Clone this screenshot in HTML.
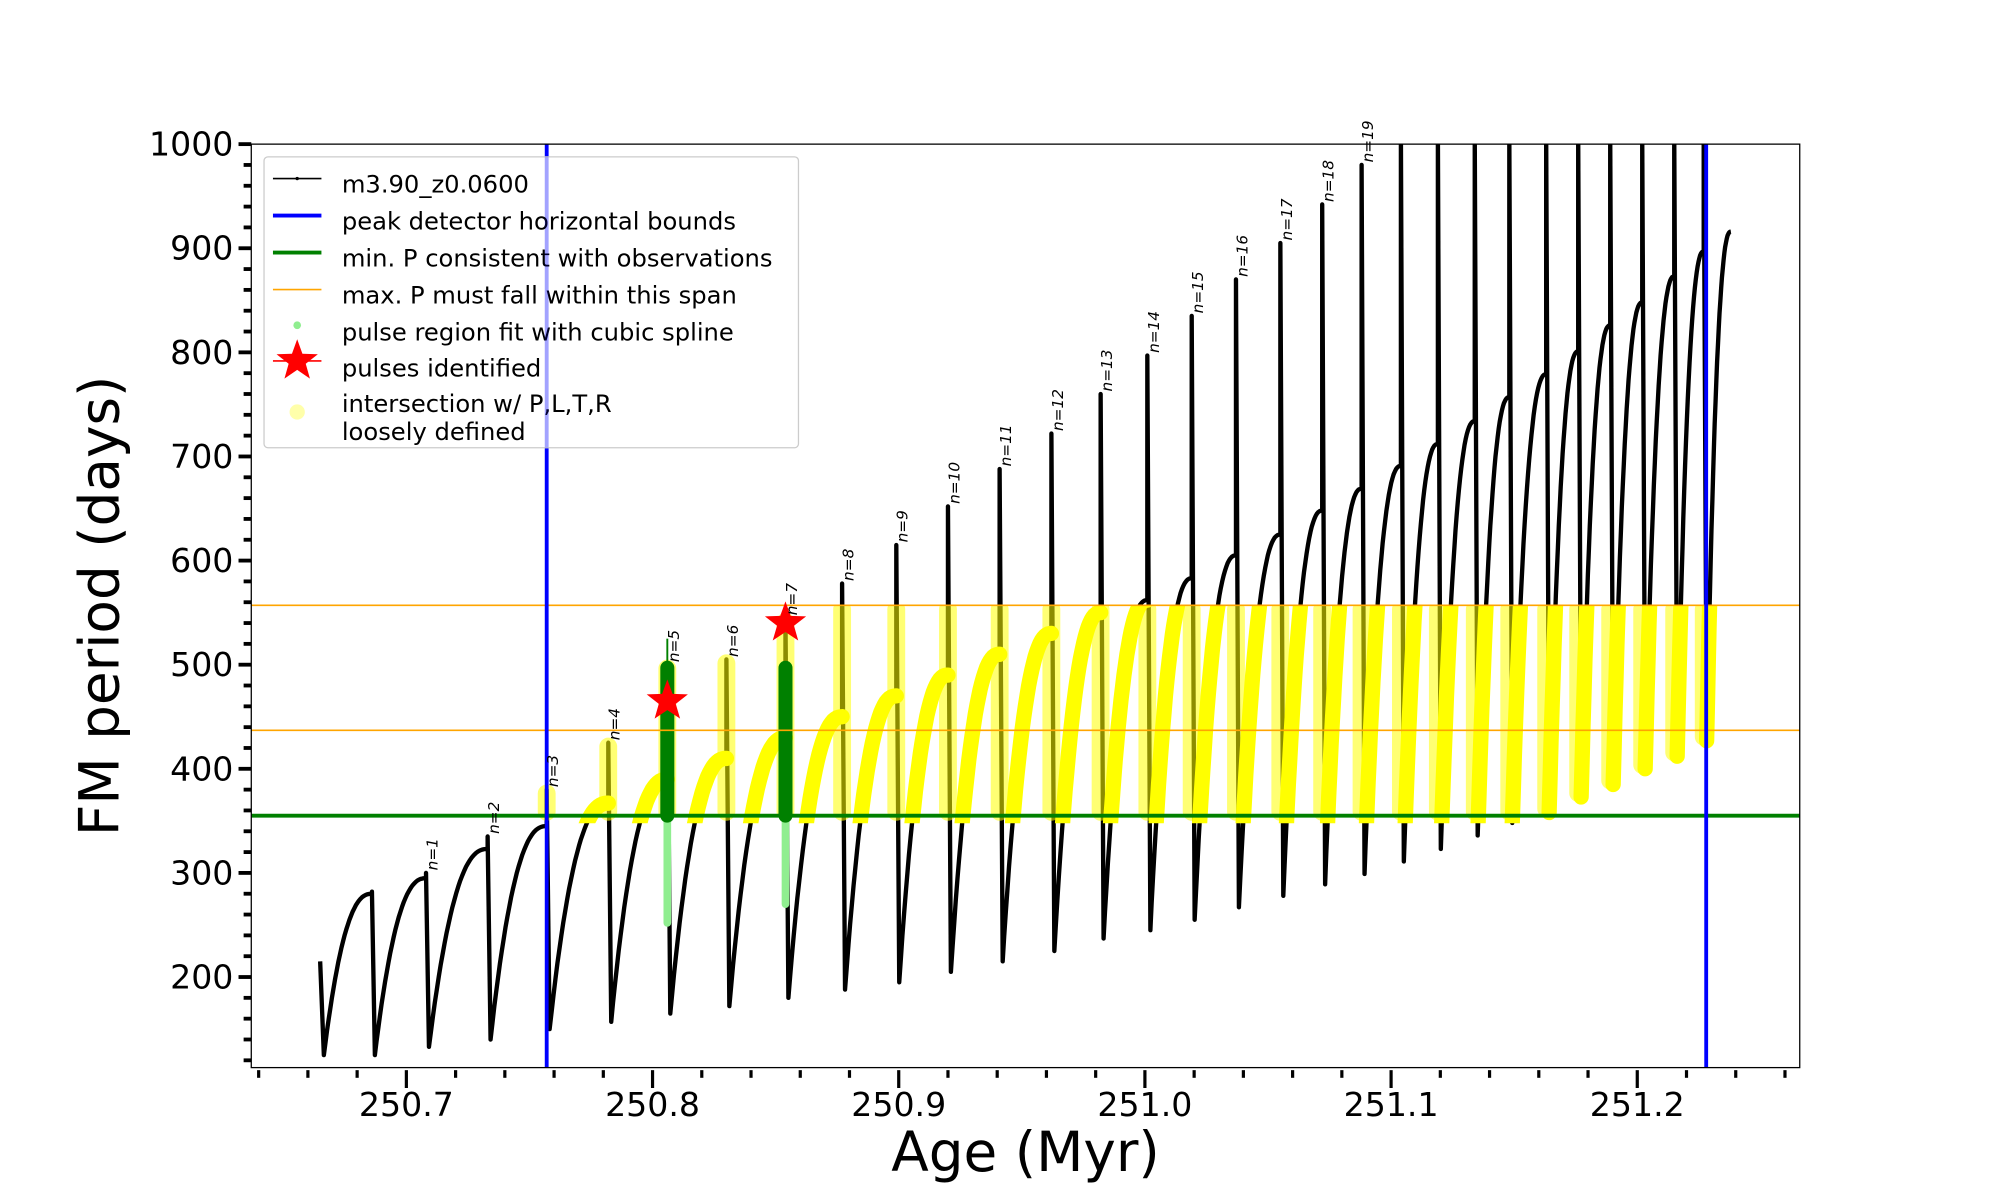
<!DOCTYPE html>
<html><head><meta charset="utf-8"><style>
html,body{margin:0;padding:0;background:#fff;}
svg{display:block;font-family:"DejaVu Sans","Liberation Sans",sans-serif;}
</style></head><body>
<svg id="chart" width="2000" height="1200" viewBox="0 0 1568 940.8" xmlns="http://www.w3.org/2000/svg">
<defs><clipPath id="plotClip"><rect x="197" y="113" width="1214" height="724"/></clipPath>
<clipPath id="yelClip"><rect id="yelRect" x="197" y="0" width="1214" height="10"/></clipPath></defs>
<g id="plot" clip-path="url(#plotClip)"></g>
<g id="axes"></g>
</svg>
<script>
const pulseAges=[250.686,250.708,250.733,250.757,250.782,250.806,250.830,250.854,250.877,250.899,250.920,250.941,250.962,250.982,251.001,251.019,251.037,251.055,251.072,251.088,251.104,251.119,251.134,251.148,251.163,251.176,251.189,251.202,251.215,251.227];
const peakVals=[280,295,323,345,367,390,410,430,450,470,490,510,530,550,562,583,605,625,648,669,691,712,734,757,779,801,826,848,873,897];
const spikeTops=[282,300,335,380,425,500,505,545,578,615,652,688,722,760,797,835,870,905,942,980,1010,1010,1010,1010,1010,1010,1010,1010,1010,1010];
const minVals=[125,133,140,150,157,165,172,180,188,195,205,215,225,237,245,255,267,278,289,299,311,323,336,348,358,373,385,400,412,427];
const startAge=250.665, startVal=215, firstMin=125, endAge=251.238, endVal=916;
const minPObs=355, maxPLow=437, maxPHigh=557;
const boundAges=[250.757,251.228];
const xTicks=[250.7,250.8,250.9,251.0,251.1,251.2];
const yTicks=[200,300,400,500,600,700,800,900,1000];
const pulsesFound=[{age:250.806,p:465},{age:250.854,p:540}];
const greenIdx=[5,7];
const greenTop=[497,497], lightBottom=[252,270], thinTop=[525,0];

const X0=197,X1=1411,Y0=113,Y1=837,xmin=250.637,xmax=251.266,ymin=113,ymax=1000;
const X=a=>X0+(a-xmin)/(xmax-xmin)*(X1-X0);
const Y=v=>Y1-(v-ymin)/(ymax-ymin)*(Y1-Y0);
const NS="http://www.w3.org/2000/svg";
function mk(tag,attrs,parent){const e=document.createElementNS(NS,tag);for(const k in attrs)e.setAttribute(k,attrs[k]);parent.appendChild(e);return e;}
const plot=document.getElementById('plot'), axes=document.getElementById('axes');

function arc(a0,v0,a1,v1,pts){for(let k=0;k<=30;k++){const s=k/30;pts.push([X(a0+(a1-a0)*s),Y(v0+(v1-v0)*(1-Math.pow(1-s,2.4)))]);}}
const blackPts=[[X(startAge),Y(startVal)],[X(startAge+0.0015),Y(firstMin)]];
const arcs=[];
let prevA=startAge+0.0015, prevV=firstMin;
for(let i=0;i<pulseAges.length;i++){
  const ap=[];arc(prevA,prevV,pulseAges[i],peakVals[i],ap);arcs.push(ap);
  blackPts.push(...ap);
  blackPts.push([X(pulseAges[i]),Y(spikeTops[i])]);
  blackPts.push([X(pulseAges[i]+0.0012),Y(minVals[i])]);
  prevA=pulseAges[i]+0.0012;prevV=minVals[i];
}
const lastArc=[];arc(prevA,prevV,endAge,endVal,lastArc);arcs.push(lastArc);blackPts.push(...lastArc);
const toD=p=>p.map((q,i)=>(i?'L':'M')+q[0].toFixed(1)+' '+q[1].toFixed(1)).join('');

const series=mk('path',{d:toD(blackPts),fill:'none',stroke:'#000','stroke-width':3.4,'stroke-linejoin':'round'},plot);



const yr=document.getElementById('yelRect');yr.setAttribute('y',Y(maxPHigh));yr.setAttribute('height',Y(minPObs)-Y(maxPHigh)+6);
const yg=mk('g',{'clip-path':'url(#yelClip)'},plot);


for(let i=3;i<pulseAges.length;i++){
  const lo=Math.max(minPObs,minVals[i]), hi=Math.min(maxPHigh,spikeTops[i]);
  if(hi>lo){const b=mk('rect',{x:X(pulseAges[i])-7,y:Y(hi)-4,width:14,height:Y(lo)-Y(hi)+8,rx:7,fill:'#ffff00',opacity:0.55},yg);
  
  }
}
for(let i=4;i<arcs.length;i++){
  const a=mk('path',{d:toD(arcs[i]),fill:'none',stroke:'#ffff00','stroke-width':12,'stroke-linecap':'round'},yg);
  
  
}
greenIdx.forEach((gi,j)=>{
  const x=X(pulseAges[gi]);
  const lg=mk('line',{x1:x,x2:x,y1:Y(lightBottom[j]),y2:Y(minPObs),stroke:'#90ee90','stroke-width':6,'stroke-linecap':'round'},plot);
  
  
  if(thinTop[j]){const t=mk('line',{x1:x,x2:x,y1:Y(thinTop[j]),y2:Y(greenTop[j]),stroke:'#008000','stroke-width':1.5},plot);
  
  }
  const g=mk('line',{x1:x,x2:x,y1:Y(greenTop[j]),y2:Y(minPObs),stroke:'#008000','stroke-width':11,'stroke-linecap':'round'},plot);
  
  
});
[maxPHigh,maxPLow].forEach(v=>{const l=mk('line',{x1:X0,x2:X1,y1:Y(v),y2:Y(v),stroke:'#ffa500','stroke-width':1.3},plot);

});
const gl=mk('line',{x1:X0,x2:X1,y1:Y(minPObs),y2:Y(minPObs),stroke:'#008000','stroke-width':3},plot);


boundAges.forEach(a=>{const l=mk('line',{x1:X(a),x2:X(a),y1:Y0,y2:Y1,stroke:'#0000ff','stroke-width':3},plot);

});
function starPath(cx,cy,R,r){let d='';for(let k=0;k<10;k++){const ang=-Math.PI/2+k*Math.PI/5,rr=k%2?r:R;d+=(k?'L':'M')+(cx+rr*Math.cos(ang)).toFixed(1)+' '+(cy+rr*Math.sin(ang)).toFixed(1);}return d+'Z';}
pulsesFound.forEach(p=>{const s=mk('path',{d:starPath(X(p.age),Y(p.p),17,7),fill:'#ff0000'},plot);

});
for(let n=1;n<=19;n++){const x=X(pulseAges[n])+9,y=Y(Math.min(spikeTops[n],985))-2;
const t=mk('text',{x:x,y:y,transform:`rotate(-90 ${x} ${y})`,'font-size':12,fill:'#000','font-style':'italic'},axes);t.textContent='n='+n;

}
const fr=mk('rect',{x:X0,y:Y0,width:X1-X0,height:Y1-Y0,fill:'none',stroke:'#000','stroke-width':1},axes);


for(let v=120;v<=1000;v+=20){const y=Y(v),maj=v%100===0;mk('line',{x1:X0-(maj?10:6),x2:X0,y1:y,y2:y,stroke:'#000','stroke-width':3},axes);}
yTicks.forEach(v=>{const t=mk('text',{x:X0-14,y:Y(v)+9,'text-anchor':'end','font-size':26},axes);t.textContent=v;

});
for(let k=0;k<=31;k++){const a=250.64+k*0.02;if(a>xmax)break;const x=X(a);const maj=Math.abs(Math.round(a*10)-a*10)<1e-6;
mk('line',{x1:x,x2:x,y1:Y1+2,y2:Y1+(maj?16:8),stroke:'#000','stroke-width':2.5},axes);}
xTicks.forEach(a=>{const t=mk('text',{x:X(a),y:Y1+38,'text-anchor':'middle','font-size':26},axes);t.textContent=a.toFixed(1);

});
const xl=mk('text',{x:804,y:918,'text-anchor':'middle','font-size':43},axes);xl.textContent='Age (Myr)';


const ylb=mk('text',{x:93,y:475,'text-anchor':'middle','font-size':43,transform:'rotate(-90 93 475)'},axes);ylb.textContent='FM period (days)';


const lg=mk('g',{},axes);


mk('rect',{x:207,y:123,width:419,height:228,rx:3,fill:'#fff','fill-opacity':0.8,stroke:'#ccc','stroke-width':1},lg);
const rows=[['m3.90_z0.0600',145],['peak detector horizontal bounds',174],['min. P consistent with observations',203],['max. P must fall within this span',232],['pulse region fit with cubic spline',261],['pulses identified',289],['intersection w/ P,L,T,R',317],['loosely defined',339]];
rows.forEach(r=>{const t=mk('text',{x:268,y:r[1]+6,'font-size':19},lg);t.textContent=r[0];

});
mk('line',{x1:214,x2:252,y1:140,y2:140,stroke:'#000','stroke-width':1.2},lg);mk('circle',{cx:233,cy:140,r:1.3,fill:'#000'},lg);
mk('line',{x1:214,x2:252,y1:169,y2:169,stroke:'#0000ff','stroke-width':3},lg);
mk('line',{x1:214,x2:252,y1:198,y2:198,stroke:'#008000','stroke-width':3},lg);
mk('line',{x1:214,x2:252,y1:227,y2:227,stroke:'#ffa500','stroke-width':1.3},lg);
mk('circle',{cx:233,cy:255,r:3,fill:'#90ee90'},lg);
mk('line',{x1:214,x2:252,y1:283,y2:283,stroke:'#ff0000','stroke-width':1.3},lg);mk('path',{d:starPath(233,283,17,7),fill:'#ff0000'},lg);
mk('circle',{cx:233,cy:323,r:6,fill:'#ffffaa'},lg);
mk('line',{x1:X(boundAges[0]),x2:X(boundAges[0]),y1:123,y2:351,stroke:'#0000ff','stroke-width':3,opacity:0.2},lg);
</script>
</body></html>
